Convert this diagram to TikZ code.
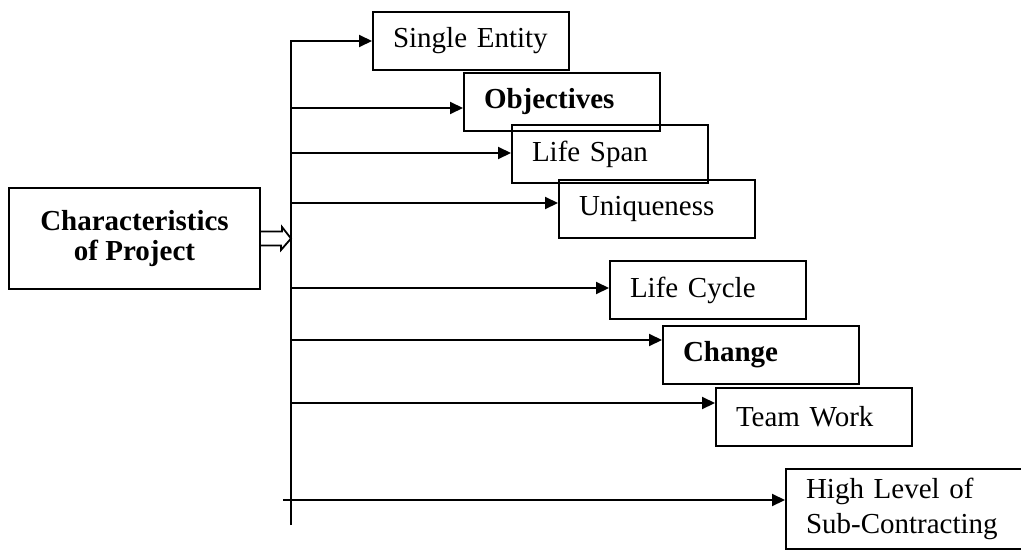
\documentclass[tikz,border=0pt]{standalone}
\usepackage{fontspec}
\setmainfont{Liberation Serif}
\usetikzlibrary{arrows.meta, positioning}

\begin{document}
\begin{tikzpicture}[
    x=0.5pt, y=-0.5pt,
    item/.style={draw=black, line width=1pt, minimum height=29pt, text width=78pt, inner xsep=10pt, align=left, anchor=north west, font=\fontsize{14.5}{17.5}\selectfont},
    bolditem/.style={item, font=\fontsize{14.5}{17.5}\selectfont\bfseries},
    mainbox/.style={draw=black, line width=1pt, minimum width=125.5pt, minimum height=50.5pt, align=center, font=\fontsize{14.5}{15}\selectfont\bfseries},
    arrow/.style={-{Triangle[length=6.5pt, width=6pt]}, line width=1pt},
    bigarrow/.style={line width=0.9pt, line join=miter}
  ]
  \useasboundingbox (0,0) rectangle (1021,551);

  % Main box on the left
  \node[mainbox] (proj) at (134.5,238.5) {Characteristics\\of Project};

  % Characteristic boxes, stepping down to the right
  \node[item] (single) at (372,11) {Single Entity};
  \node[bolditem] (obj) at (463,72) {Objectives};
  \node[item] (span) at (511,124) {Life Span};
  \node[item] (unique) at (558,179) {Uniqueness};
  \node[item] (cycle) at (609,260) {Life Cycle};
  \node[bolditem] (change) at (662,325) {Change};
  \node[item] (team) at (715,387) {Team Work};
  \node[item, text width=130pt, minimum height=40pt] (subcon) at (785,468) {High Level of\\Sub-Contracting};

  % Vertical spine
  \coordinate (spine_bot) at (291,525);
  \coordinate (spine_top) at (spine_bot |- single.west);
  \draw[arrow] (spine_bot) -- (spine_top) -- (single.west);

  % Branches off the spine
  \foreach \n/\y in {obj/108, span/153, unique/203, cycle/288, change/340, team/403}
    \draw[arrow] (spine_top |- 0,\y) -- (\n.west |- 0,\y);
  \draw[arrow] ([xshift=-4pt]spine_bot |- 0,500) -- (subcon.west |- 0,500);

  % Outlined double arrow into the spine
  \coordinate (tip) at (proj.east -| spine_bot);
  \draw[bigarrow] (proj.east) ++(0,-7) -- ++(21,0) -- ++(0,-4.5) -- (tip)
    -- ++(-10,11.5) -- ++(0,-4.5) -- ++(-21,0);
\end{tikzpicture}
\end{document}
